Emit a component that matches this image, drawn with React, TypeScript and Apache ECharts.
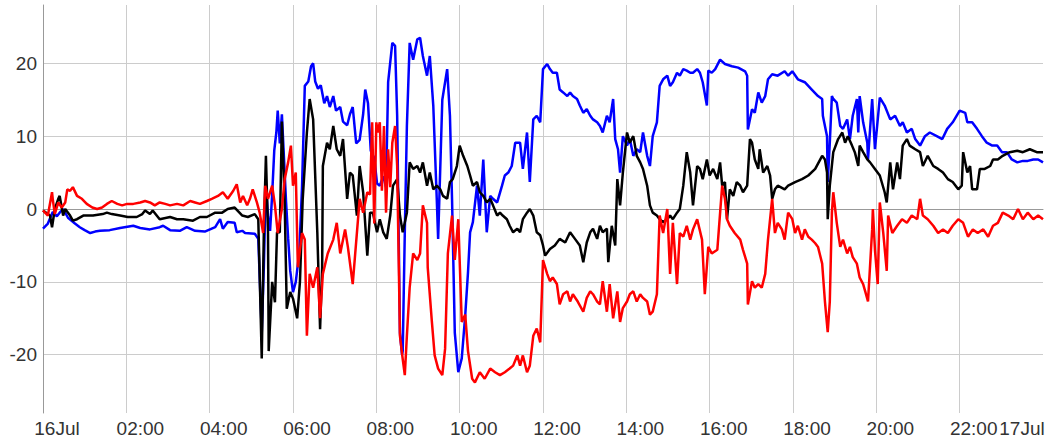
import React, { useEffect, useRef } from "react";
import * as echarts from "echarts";

// Time is given in minutes after midnight of 16 Jul; values are the three components.
const xTickLabels = ["16Jul", "02:00", "04:00", "06:00", "08:00", "10:00", "12:00", "14:00", "16:00", "18:00", "20:00", "22:00", "17Jul"];
const yTickValues = [-20, -10, 0, 10, 20];

const blueSeries: [number, number][] = [
  [0,-2.7],[7,-2.0],[14,-0.4],[20,-1.0],[24,-0.5],[29,0.0],[36,-1.2],[46,-2.0],[53,-2.5],[60,-2.9],[68,-3.3],[75,-3.1],[82,-3.0],[96,-2.9],[111,-2.6],[130,-2.3],[140,-2.6],[154,-2.8],[168,-2.5],[173,-2.3],[183,-2.9],[197,-3.0],[207,-2.5],[219,-3.0],[233,-3.1],[248,-2.5],[255,-1.4],[259,-2.7],[266,-1.8],[276,-1.9],[279,-3.2],[287,-3.0],[291,-3.3],[305,-3.4],[310,-4.1],[315,-17.0],[318,-8.0],[321,3.5],[324,-1.0],[327,-3.0],[330,2.0],[333,8.0],[336,10.5],[338,13.5],[341,9.0],[344,13.0],[347,7.0],[350,1.0],[353,-4.0],[356,-8.5],[360,-11.4],[364,-10.0],[369,-6.0],[373,3.0],[377,16.9],[382,17.5],[386,19.6],[389,20.0],[392,17.5],[396,16.5],[400,17.0],[405,14.5],[409,15.5],[413,14.0],[418,15.5],[422,13.5],[428,14.0],[432,12.0],[438,11.5],[442,13.0],[446,14.0],[451,9.0],[456,9.5],[461,13.0],[464,16.4],[468,14.5],[472,8.0],[477,7.0],[481,3.5],[485,3.2],[490,4.5],[494,3.0],[497,17.4],[503,22.8],[507,22.4],[510,12.8],[514,-17.0],[517,-20.0],[518,-19.5],[521,-3.2],[524,11.4],[528,22.8],[533,20.5],[539,23.3],[543,23.5],[547,21.0],[553,18.3],[557,21.0],[562,14.2],[567,1.4],[569,-4.1],[575,15.0],[582,19.2],[586,12.8],[589,1.4],[593,-17.0],[598,-22.4],[603,-20.5],[608,-14.6],[612,-8.7],[615,-3.2],[619,-1.8],[625,3.2],[629,-0.9],[634,6.8],[639,-3.2],[644,1.8],[648,1.4],[654,0.9],[661,3.2],[665,4.6],[670,5.0],[675,5.9],[680,9.1],[687,9.1],[691,5.5],[697,10.5],[701,3.7],[706,12.3],[711,12.8],[716,11.9],[720,19.2],[726,19.9],[730,19.2],[734,18.7],[740,18.7],[744,16.4],[749,16.0],[755,15.5],[759,16.0],[763,15.5],[769,15.1],[773,14.2],[778,13.2],[783,13.7],[788,12.8],[792,12.3],[798,11.9],[802,11.4],[806,10.5],[812,12.8],[816,11.9],[821,15.1],[824,9.6],[828,8.2],[831,5.0],[835,10.0],[841,8.7],[845,9.6],[850,7.3],[855,8.2],[860,7.8],[864,10.5],[870,7.3],[874,5.9],[878,10.0],[884,11.9],[888,16.9],[893,17.8],[899,18.3],[903,16.9],[907,17.4],[913,18.7],[917,18.3],[922,19.2],[927,19.0],[932,18.7],[936,18.7],[942,19.2],[946,18.7],[950,17.4],[956,14.2],[958,19.0],[963,18.7],[968,19.2],[975,20.5],[982,19.9],[992,19.6],[1001,19.4],[1011,18.9],[1014,18.3],[1015,10.9],[1021,13.7],[1025,13.2],[1030,16.0],[1035,14.6],[1040,15.5],[1044,17.8],[1050,18.5],[1058,18.3],[1068,18.9],[1073,18.3],[1079,18.9],[1087,17.8],[1097,17.4],[1107,16.4],[1116,15.5],[1122,15.1],[1123,12.8],[1129,10.0],[1130,3.7],[1133,9.1],[1136,15.5],[1138,15.1],[1143,14.6],[1148,11.4],[1152,11.0],[1158,12.3],[1162,9.6],[1166,12.8],[1172,15.1],[1174,10.5],[1176,15.5],[1181,11.9],[1187,9.1],[1188,6.8],[1194,15.1],[1198,8.2],[1205,15.3],[1212,14.2],[1220,12.3],[1227,12.8],[1234,11.4],[1238,11.9],[1244,10.5],[1251,11.0],[1256,9.6],[1263,8.7],[1270,10.0],[1277,10.5],[1287,10.0],[1295,9.6],[1302,11.0],[1310,11.9],[1320,13.5],[1328,13.2],[1331,11.9],[1338,11.9],[1345,11.0],[1352,10.0],[1359,9.1],[1367,8.7],[1374,8.7],[1381,7.8],[1388,7.8],[1395,6.8],[1403,6.4],[1411,6.6],[1418,6.6],[1426,6.8],[1433,6.8],[1440,6.4],
];

const blackSeries: [number, number][] = [
  [0,-0.2],[10,-0.9],[13,-2.5],[17,0.0],[22,1.4],[24,1.8],[29,-0.9],[32,0.0],[39,-0.9],[43,-1.6],[49,-1.4],[58,-0.9],[72,-0.9],[86,-0.7],[92,-0.5],[99,-0.7],[111,-0.9],[122,-1.1],[135,-1.1],[143,-0.7],[147,-0.2],[154,-0.7],[158,-0.2],[168,-1.4],[183,-1.1],[193,-1.4],[202,-1.4],[216,-1.6],[226,-1.1],[236,-1.1],[248,-0.5],[258,-0.5],[266,0.0],[276,0.2],[287,-0.9],[295,-1.1],[305,-0.7],[310,-1.4],[315,-20.5],[318,-3.2],[321,7.3],[324,-3.2],[325,-19.5],[330,-10.0],[334,-12.8],[337,-3.2],[341,-3.2],[344,12.0],[348,1.0],[351,-13.7],[356,-11.4],[360,-12.3],[366,-15.0],[370,-10.0],[374,1.4],[380,10.5],[384,15.1],[389,12.3],[395,-3.2],[399,-16.5],[402,-8.0],[403,5.9],[409,9.1],[413,8.2],[418,11.4],[423,8.2],[428,7.3],[432,9.6],[438,1.4],[442,5.0],[446,4.6],[452,-0.9],[456,5.9],[461,2.3],[467,-6.4],[471,-0.5],[475,-0.5],[481,-3.2],[485,-1.4],[490,-3.2],[495,-4.1],[500,-0.9],[504,3.2],[510,4.1],[514,-0.9],[518,-3.2],[524,-0.5],[528,6.4],[533,5.5],[539,5.9],[543,5.0],[547,6.4],[553,3.2],[557,5.0],[562,2.7],[567,3.2],[572,2.7],[576,1.8],[582,1.4],[586,3.7],[590,4.1],[596,5.9],[600,8.7],[605,7.3],[611,5.9],[615,4.6],[619,3.2],[625,3.7],[629,2.3],[634,1.8],[639,0.9],[644,1.4],[648,0.5],[654,-0.9],[658,-0.5],[662,-0.9],[668,-1.4],[672,-2.3],[677,-3.2],[683,-2.7],[687,-3.2],[691,-1.4],[697,-0.5],[701,0.0],[706,-0.9],[711,-3.2],[716,-3.6],[720,-5.0],[723,-6.4],[730,-5.5],[737,-5.0],[744,-4.1],[752,-4.6],[759,-3.2],[766,-4.1],[773,-5.0],[778,-7.3],[783,-4.6],[788,-3.2],[792,-2.7],[798,-4.1],[802,-2.3],[806,-3.2],[812,-2.7],[814,-7.3],[819,-2.3],[824,-5.0],[827,4.1],[831,0.5],[835,5.0],[841,10.5],[845,9.1],[850,10.0],[855,7.3],[860,6.4],[864,5.5],[870,3.2],[874,0.5],[878,-0.5],[884,-0.9],[888,-1.4],[893,-1.8],[899,-1.4],[903,-0.9],[907,-1.4],[913,-0.5],[917,0.0],[922,3.2],[927,7.8],[932,5.0],[936,0.5],[942,5.9],[946,5.5],[950,4.1],[956,6.8],[960,4.6],[965,5.5],[971,4.1],[975,6.4],[978,3.2],[982,3.7],[985,-1.4],[989,2.7],[994,1.8],[999,3.7],[1004,3.2],[1008,2.3],[1014,3.2],[1018,9.6],[1021,9.1],[1025,6.8],[1030,5.5],[1032,8.2],[1037,5.0],[1043,5.9],[1047,4.6],[1050,1.4],[1054,2.7],[1058,3.2],[1068,2.7],[1073,3.2],[1083,3.7],[1093,4.1],[1102,4.6],[1112,5.5],[1122,7.3],[1126,6.8],[1129,5.0],[1130,-1.4],[1133,3.2],[1138,7.8],[1145,9.6],[1151,10.5],[1155,9.1],[1159,10.0],[1165,8.7],[1169,7.8],[1174,5.9],[1176,8.7],[1181,7.8],[1187,6.8],[1191,6.4],[1198,5.5],[1205,4.6],[1212,2.3],[1215,0.9],[1220,6.4],[1224,2.7],[1230,6.4],[1234,4.1],[1238,8.7],[1244,9.6],[1248,8.7],[1256,8.2],[1263,7.8],[1267,5.9],[1274,7.3],[1282,5.9],[1289,5.5],[1296,5.0],[1303,4.1],[1310,3.7],[1318,2.7],[1323,3.2],[1325,7.8],[1331,5.0],[1335,5.9],[1338,2.7],[1345,2.7],[1349,5.5],[1356,5.5],[1364,5.9],[1368,6.8],[1375,6.8],[1382,7.3],[1392,7.8],[1403,8.0],[1411,7.8],[1421,8.2],[1431,7.8],[1440,7.8],
];

const redSeries: [number, number][] = [
  [0,-0.2],[7,-0.9],[13,2.3],[14,1.4],[17,-0.7],[22,0.9],[27,0.2],[32,0.9],[35,2.7],[39,2.5],[43,3.0],[49,1.8],[56,1.4],[63,0.7],[71,0.2],[78,0.0],[85,0.2],[92,0.7],[99,1.1],[107,0.7],[114,0.5],[121,0.7],[130,0.7],[140,0.9],[147,1.1],[154,0.9],[161,0.5],[168,0.9],[176,0.7],[183,0.5],[193,0.7],[202,0.5],[212,1.1],[219,0.9],[226,0.7],[236,1.1],[243,1.4],[252,1.8],[259,2.3],[266,1.4],[274,2.5],[279,3.4],[284,0.9],[288,1.8],[294,0.5],[298,1.4],[302,2.7],[308,0.9],[312,-0.5],[317,-3.3],[320,3.2],[324,1.4],[330,3.2],[334,0.5],[338,-3.3],[344,0.0],[348,4.1],[353,6.4],[357,8.7],[360,3.2],[364,5.0],[367,-8.0],[373,-3.3],[377,-4.2],[380,-17.4],[384,-8.9],[389,-10.8],[395,-8.0],[399,-15.0],[403,-8.9],[410,-6.1],[418,-4.2],[423,-1.9],[428,-6.1],[435,-2.8],[439,-5.2],[446,-10.3],[452,-3.3],[456,1.4],[461,-0.5],[467,2.3],[471,2.0],[474,11.9],[477,-2.0],[480,11.9],[482,10.5],[485,11.9],[488,2.5],[491,11.4],[494,-0.5],[497,8.2],[500,3.0],[503,9.1],[507,11.4],[510,5.9],[514,-17.4],[518,-20.6],[521,-22.8],[524,-17.4],[528,-10.8],[533,-6.1],[539,-7.0],[543,-6.1],[547,0.5],[553,-1.9],[554,-8.0],[560,-15.5],[564,-20.1],[569,-21.9],[575,-22.8],[579,-19.2],[583,-6.1],[589,-0.9],[593,-7.0],[598,-1.4],[603,-15.5],[608,-14.5],[612,-19.5],[618,-23.3],[622,-23.8],[629,-22.4],[636,-23.3],[644,-21.9],[651,-22.4],[658,-22.8],[665,-22.4],[672,-21.9],[677,-21.5],[683,-20.1],[687,-21.5],[691,-20.1],[697,-22.4],[701,-21.5],[706,-17.4],[711,-16.4],[716,-18.3],[720,-7.0],[726,-8.9],[730,-9.9],[734,-9.4],[740,-10.3],[744,-13.1],[749,-11.7],[755,-11.3],[759,-12.7],[763,-11.7],[770,-12.7],[778,-14.1],[783,-12.2],[788,-11.3],[792,-11.7],[798,-12.7],[802,-13.1],[806,-9.9],[812,-14.1],[816,-10.3],[821,-15.0],[827,-11.3],[831,-15.5],[835,-13.6],[841,-12.7],[845,-11.7],[850,-11.3],[855,-12.7],[860,-11.7],[864,-12.2],[870,-12.7],[874,-14.5],[878,-14.1],[884,-11.7],[888,-0.9],[893,-3.3],[899,0.0],[903,-8.9],[907,-1.9],[913,-10.3],[917,-3.3],[922,-3.8],[927,-2.3],[932,-4.2],[936,-2.8],[942,-1.4],[949,-4.2],[953,-11.7],[958,-5.2],[963,-6.1],[971,-5.6],[978,3.2],[982,1.4],[985,-1.4],[989,-2.3],[996,-3.3],[1004,-4.2],[1008,-5.6],[1014,-7.5],[1015,-13.1],[1021,-9.9],[1025,-10.8],[1030,-10.3],[1035,-10.8],[1040,-8.9],[1044,-4.2],[1050,1.4],[1054,-3.3],[1058,-1.9],[1064,-2.8],[1068,-4.2],[1073,-0.5],[1079,-1.4],[1083,-3.3],[1087,-2.3],[1093,-4.2],[1097,-2.8],[1102,-3.8],[1107,-4.2],[1112,-4.7],[1116,-5.2],[1122,-7.5],[1126,-12.7],[1130,-16.9],[1133,-12.7],[1136,-0.5],[1138,2.3],[1143,-1.9],[1148,-5.2],[1152,-4.2],[1158,-6.1],[1162,-5.2],[1166,-6.6],[1172,-7.5],[1176,-9.4],[1181,-10.3],[1184,-11.3],[1188,-12.7],[1194,-2.8],[1195,0.0],[1198,-5.6],[1202,-10.3],[1205,0.9],[1210,-3.3],[1215,-8.5],[1217,-0.9],[1223,-3.3],[1230,-2.3],[1237,-1.4],[1244,-1.9],[1251,-0.9],[1259,-1.4],[1263,1.4],[1267,-0.9],[1274,-1.4],[1282,-2.3],[1289,-3.3],[1296,-2.8],[1303,-3.3],[1310,-2.3],[1318,-1.4],[1325,-1.9],[1332,-3.8],[1339,-2.8],[1346,-3.3],[1354,-2.8],[1361,-3.8],[1368,-2.3],[1375,-1.9],[1382,-0.5],[1390,-0.9],[1397,-1.4],[1404,0.0],[1411,-1.4],[1418,-0.5],[1426,-1.4],[1433,-0.9],[1440,-1.4],
];

const FONT = "'Liberation Sans', Arial, sans-serif";
const LABEL_COLOR = "#333";

export default function App() {
  const ref = useRef<HTMLDivElement>(null);

  useEffect(() => {
    if (!ref.current) return;
    const chart = echarts.init(ref.current, undefined, { renderer: "svg" });
    const lastIndex = xTickLabels.length - 1;

    chart.setOption({
      animation: false,
      backgroundColor: "#fff",
      grid: { left: 43, right: 7, top: 5, bottom: 28, containLabel: false, outerBoundsMode: "none" },
      xAxis: {
        type: "value",
        min: 0,
        max: 1440,
        interval: 120,
        axisLine: { show: true, lineStyle: { color: "#999", width: 1 } },
        axisTick: { show: false },
        splitLine: { show: true, showMinLine: false, showMaxLine: false, lineStyle: { color: "#ccc", width: 1 } },
        axisLabel: {
          show: true,
          margin: 6,
          hideOverlap: false,
          showMinLabel: true,
          showMaxLabel: true,
          formatter: (v: number) => {
            const i = Math.round(v / 120);
            const text = xTickLabels[i];
            return i === lastIndex ? `{e|${text}}` : `{n|${text}}`;
          },
          rich: {
            n: { fontFamily: FONT, fontSize: 19, color: LABEL_COLOR, padding: [0, 0, 0, 28] },
            e: { fontFamily: FONT, fontSize: 19, color: LABEL_COLOR, padding: [0, 42, 0, 0] },
          },
        },
      },
      yAxis: {
        type: "value",
        min: -28,
        max: 28,
        axisLine: { show: true, lineStyle: { color: "#999", width: 1 } },
        axisTick: { show: false },
        splitLine: { show: true, showMinLine: false, showMaxLine: false, lineStyle: { color: "#ccc", width: 1 } },
        axisLabel: {
          show: true,
          margin: 6,
          fontFamily: FONT,
          fontSize: 19,
          color: LABEL_COLOR,
          showMinLabel: false,
          showMaxLabel: false,
          formatter: (v: number) => (yTickValues.includes(v) ? String(v) : ""),
        },
      },
      series: [
        { type: "line", data: blueSeries, showSymbol: false, lineStyle: { color: "#0000ff", width: 2.5 }, itemStyle: { color: "#0000ff" } },
        { type: "line", data: blackSeries, showSymbol: false, lineStyle: { color: "#000000", width: 2.5 }, itemStyle: { color: "#000000" } },
        { type: "line", data: redSeries, showSymbol: false, lineStyle: { color: "#ff0000", width: 2.5 }, itemStyle: { color: "#ff0000" } },
      ],
    });

    return () => chart.dispose();
  }, []);

  return (
    <div
      ref={ref}
      style={{ position: "fixed", left: 0, top: 0, width: 1050, height: 441, background: "#fff" }}
    />
  );
}
